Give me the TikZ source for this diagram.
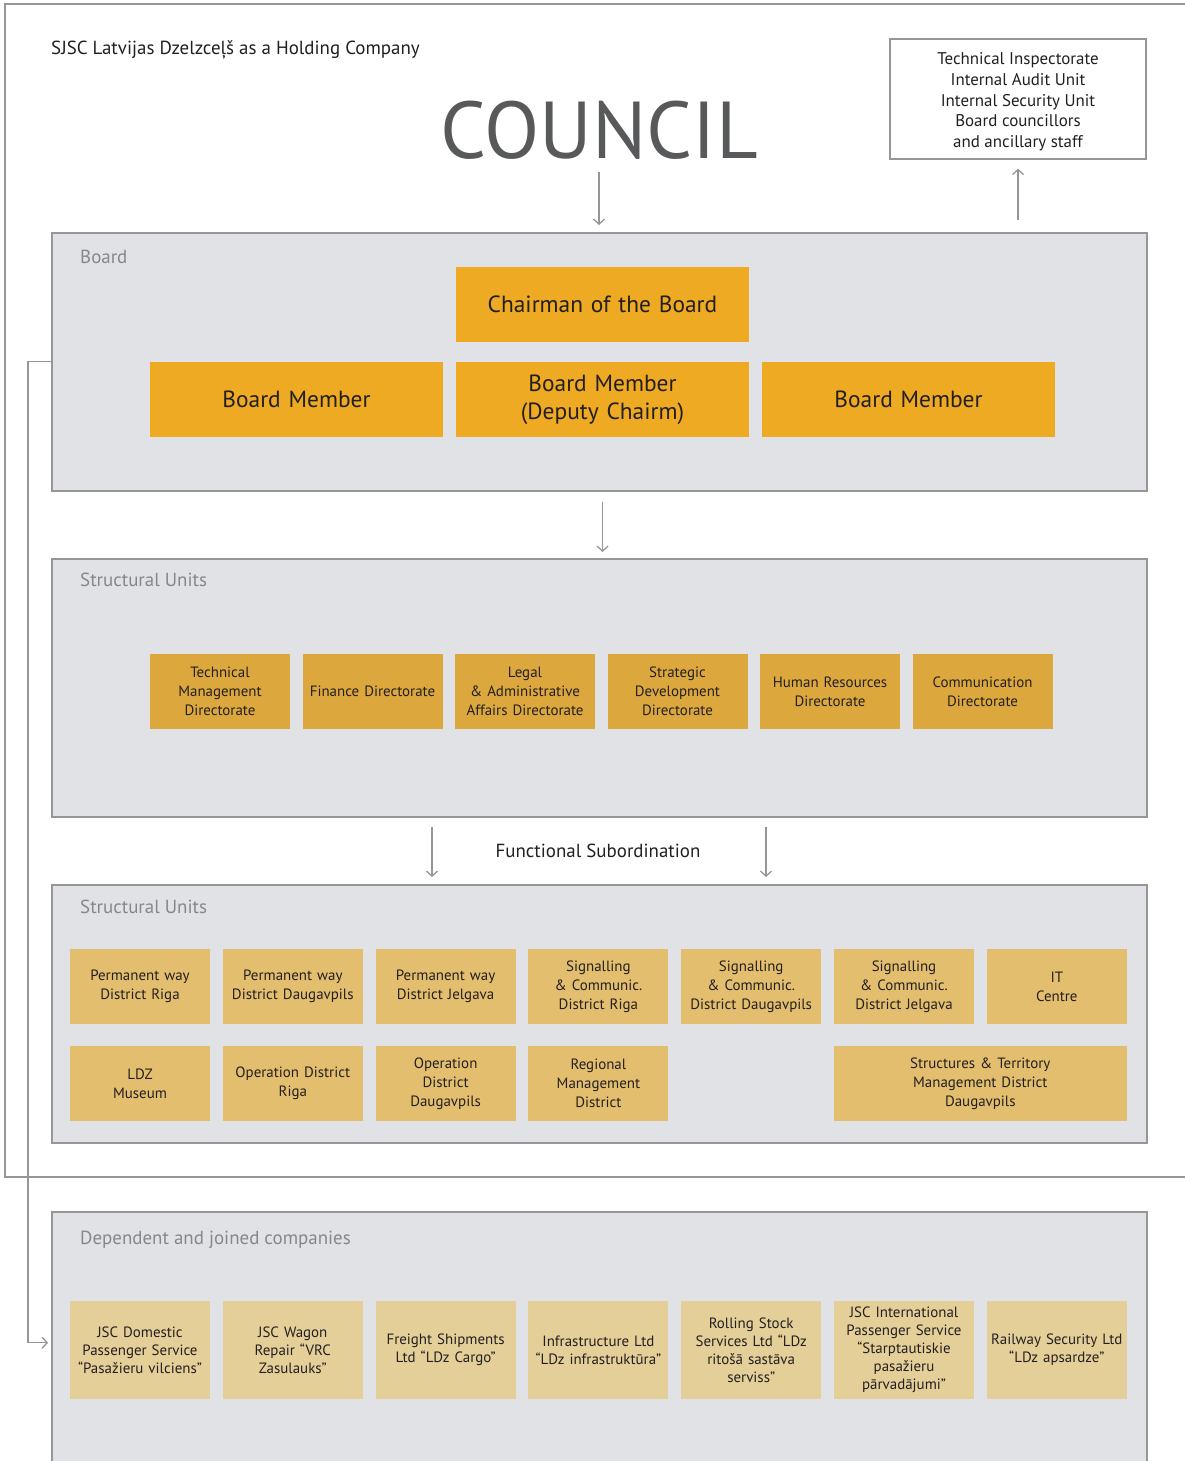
\documentclass[tikz,border=0pt]{standalone}
\usepackage{fontspec}
\setmainfont{PT Sans}
\usetikzlibrary{arrows.meta,positioning,calc}
\definecolor{chairfill}{RGB}{238,170,34}
\definecolor{dirfill}{RGB}{220,168,62}
\definecolor{unitfill}{RGB}{227,190,110}
\definecolor{compfill}{RGB}{228,207,153}
\definecolor{panelfill}{RGB}{225,226,230}
\definecolor{linegray}{RGB}{150,150,152}
\definecolor{labelgray}{RGB}{135,135,137}
\definecolor{councilgray}{RGB}{88,89,91}
\definecolor{ink}{RGB}{35,31,32}
\tikzset{
    arr/.style={-{Straight Barb[length=5bp, width=11bp]}, line width=1.3bp, linegray},
    frame/.style={draw=linegray, line width=1.8bp},
    panel/.style={draw=linegray, fill=panelfill, line width=1.5bp, anchor=north west, inner sep=0bp, minimum width=1095bp},
    paneltitle/.style={anchor=west, inner sep=0bp, text=labelgray, font=\fontsize{19}{22}\selectfont},
    bigbox/.style={fill=chairfill, minimum width=293bp, minimum height=75bp, text width=285bp, inner sep=0bp, outer sep=0bp, align=center, text=ink, font=\fontsize{23.5}{28}\selectfont},
    dirbox/.style={fill=dirfill, minimum width=140bp, minimum height=75bp, text width=138bp, inner sep=0bp, outer sep=0bp, align=center, text=ink, font=\fontsize{15}{19}\selectfont},
    unitbox/.style={dirbox, fill=unitfill},
    compbox/.style={dirbox, fill=compfill, minimum height=98bp, font=\fontsize{15}{18}\selectfont}
}
\begin{document}
\begin{tikzpicture}[x=1bp, y=-1bp]
\useasboundingbox (0,0) rectangle (1184,1461);
% holding frame
\draw[frame] (1200,4) -- (5,4) -- (5,1177) -- (1200,1177);
\node[anchor=west, inner sep=0bp, text=ink, font=\fontsize{19}{22}\selectfont] (title) at (51,49.5) {SJSC Latvijas Dzelzceļš as a Holding Company};
\node[inner sep=0bp, text=councilgray, font=\fontsize{81}{90}\selectfont] (council) at (599,130) {COUNCIL};
\node[draw=linegray, line width=1.3bp, minimum width=256bp, minimum height=120bp, inner sep=0bp, align=center, text=ink, font=\fontsize{17}{20.8}\selectfont] (tech) at (1018,99)
    {\rule{0bp}{18bp}Technical Inspectorate\\Internal Audit Unit\\Internal Security Unit\\Board councillors\\and ancillary staff};

% board
\node[panel, minimum height=258bp] (board) at (51,232) {};
\node[paneltitle] (boardlbl) at (80,256.5) {Board};
\node[bigbox] (chair) at (602.5,304.5) {Chairman of the Board};
\node[bigbox, below=20bp of chair] (bm2) {Board Member\\(Deputy Chairm)};
\node[bigbox, left=13bp of bm2] (bm1) {Board Member};
\node[bigbox, right=13bp of bm2] (bm3) {Board Member};

% directorates
\node[panel, minimum height=258bp] (su) at (51,558) {};
\node[paneltitle] (sulbl) at (80,580) {Structural Units};
\node[dirbox, anchor=north west] (d1) at (150,654) {Technical\\Management\\Directorate};
\node[dirbox, right=12.5bp of d1] (d2) {Finance Directorate};
\node[dirbox, right=12.5bp of d2] (d3) {Legal\\\& Administrative\\Affairs Directorate};
\node[dirbox, right=12.5bp of d3] (d4) {Strategic\\Development\\Directorate};
\node[dirbox, right=12.5bp of d4] (d5) {Human Resources\\Directorate};
\node[dirbox, right=12.5bp of d5] (d6) {Communication\\Directorate};

\coordinate (fl) at (432,850);
\coordinate (fr) at (766,850);
\node[inner sep=0bp, text=ink, font=\fontsize{19}{22}\selectfont] (func) at (598,850.5) {Functional Subordination};

% units
\node[panel, minimum height=258bp] (units) at (51,884) {};
\node[paneltitle] (unitslbl) at (80,907) {Structural Units};
\node[unitbox, anchor=north west] (u1) at (70,949) {Permanent way\\District Riga};
\node[unitbox, right=12.8bp of u1] (u2) {Permanent way\\District Daugavpils};
\node[unitbox, right=12.8bp of u2] (u3) {Permanent way\\District Jelgava};
\node[unitbox, right=12.8bp of u3] (u4) {Signalling\\\& Communic.\\District Riga};
\node[unitbox, right=12.8bp of u4] (u5) {Signalling\\\& Communic.\\District Daugavpils};
\node[unitbox, right=12.8bp of u5] (u6) {Signalling\\\& Communic.\\District Jelgava};
\node[unitbox, right=12.8bp of u6] (u7) {IT\\Centre};
\node[unitbox, below=22bp of u1] (v1) {LDZ\\Museum};
\node[unitbox, right=12.8bp of v1] (v2) {Operation District\\Riga};
\node[unitbox, right=12.8bp of v2] (v3) {Operation\\District\\Daugavpils};
\node[unitbox, right=12.8bp of v3] (v4) {Regional\\Management\\District};
\node[unitbox, minimum width=293bp, text width=285bp, below=22bp of u7.south east, anchor=north east] (v5) {Structures \& Territory\\Management District\\Daugavpils};

% companies
\node[panel, minimum height=262bp] (comp) at (51,1211) {};
\node[paneltitle] (complbl) at (80,1240) {Dependent and joined companies};
\node[compbox, anchor=north west] (c1) at (70,1301) {JSC Domestic\\Passenger Service\\“Pasažieru vilciens”};
\node[compbox, right=12.8bp of c1] (c2) {JSC Wagon\\Repair “VRC\\Zasulauks”};
\node[compbox, right=12.8bp of c2] (c3) {Freight Shipments\\Ltd “LDz Cargo”};
\node[compbox, right=12.8bp of c3] (c4) {Infrastructure Ltd\\“LDz infrastruktūra”};
\node[compbox, right=12.8bp of c4] (c5) {Rolling Stock\\Services Ltd “LDz\\ritošā sastāva\\serviss”};
\node[compbox, right=12.8bp of c5] (c6) {JSC International\\Passenger Service\\“Starptautiskie\\pasažieru\\pārvadājumi”};
\node[compbox, right=12.8bp of c6] (c7) {Railway Security Ltd\\“LDz apsardze”};

% connectors
\draw[arr, shorten <=13bp, shorten >=7bp] (council.south) -- (council.south |- board.north);
\draw[arr, shorten <=12bp, shorten >=9bp] (tech.south |- board.north) -- (tech.south);
\draw[arr, shorten <=10bp, shorten >=6bp] (board.south -| chair) -- (su.north -| chair);
\draw[arr, shorten <=9bp, shorten >=7bp] (su.south -| fl) -- (units.north -| fl);
\draw[arr, shorten <=9bp, shorten >=7bp] (su.south -| fr) -- (units.north -| fr);
\draw[arr, shorten >=3bp] (board.west) -- ++(-23,0) |- (comp.west);
\end{tikzpicture}
\end{document}
